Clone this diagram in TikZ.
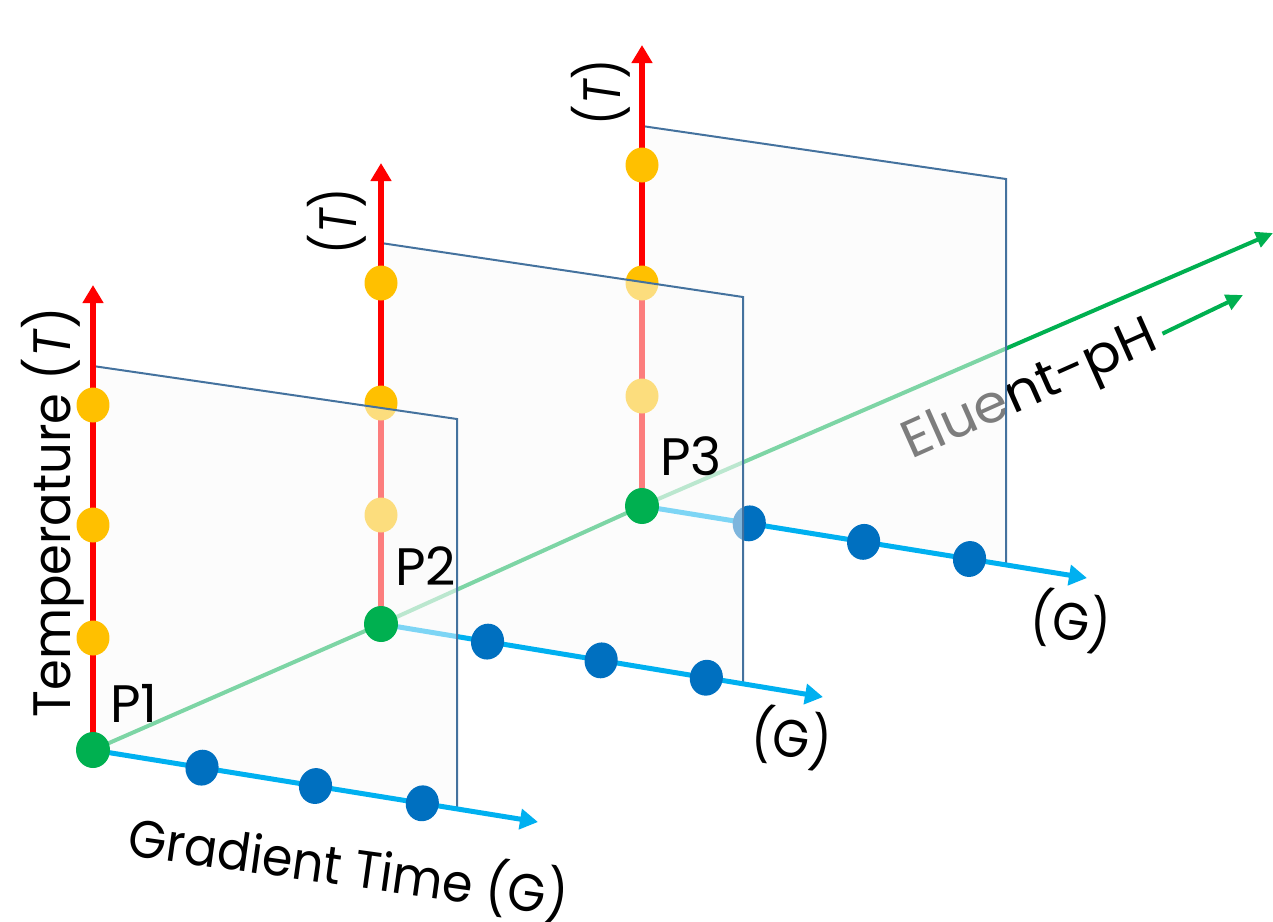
\documentclass[tikz,border=0pt]{standalone}
\usepackage{fontspec}
\setmainfont{Poppins}
\usetikzlibrary{arrows.meta,shapes.geometric,calc}
\definecolor{tred}{HTML}{FF0000}
\definecolor{tyel}{HTML}{FFC000}
\definecolor{pgreen}{HTML}{00B050}
\definecolor{gline}{HTML}{00B0F0}
\definecolor{gdot}{HTML}{0070C0}
\definecolor{frame}{HTML}{44729E}
\begin{document}
\begin{tikzpicture}[x=0.02cm, y=-0.02cm,
  taxis/.style={draw=tred, line width=0.12cm, -{Triangle[length=0.36cm,width=0.4cm]}},
  gaxis/.style={draw=gline, line width=0.1cm, -{Triangle[length=0.36cm,width=0.4cm]}},
  phaxis/.style={draw=pgreen, line width=0.08cm, -{Triangle[length=0.34cm,width=0.32cm]}},
  tdot/.style={ellipse, fill=tyel, minimum width=0.66cm, minimum height=0.7cm, inner sep=0},
  gdotst/.style={ellipse, fill=gdot, minimum width=0.66cm, minimum height=0.72cm, inner sep=0, rotate=-12},
  pdot/.style={ellipse, fill=pgreen, minimum width=0.68cm, minimum height=0.72cm, inner sep=0},
  plane/.style={fill=black!2, fill opacity=0.5, draw=none},
  planeedge/.style={draw=frame, line width=0.04cm},
  lbl/.style={font=\fontsize{30}{36}\selectfont, inner sep=0, text=black},
]
\useasboundingbox (0,0) rectangle (1273,921);

% origins of the three panels and axis end points
\coordinate (P1) at (93,750);
\coordinate (P2) at (381,624);
\coordinate (P3) at (642,506);
\coordinate (T1) at (93,285);
\coordinate (T2) at (381,163);
\coordinate (T3) at (642,45);
\coordinate (G1) at (538,822);
\coordinate (G2) at (823,697);
\coordinate (G3) at (1087,578);
\coordinate (pH) at (1273,233);
\coordinate (pHs) at (1243,295);

% eluent-pH axis with its label, lying behind all panels
\draw[phaxis] (P1) -- (P2) -- (P3) -- (pH);
\node[lbl, rotate=24, anchor=base] (phlbl) at (1036,404) {\scalebox{1.05}[1]{Eluent-pH}};
\draw[phaxis, shorten <=4pt] (phlbl.east) -- (pHs);

% panel 3
\fill[plane] (P3) -- (642,126) -- (1006,179) -- (1006,565) -- cycle;
\draw[planeedge] (642,126) -- (1006,179) -- (1006,565);
\draw[taxis] (P3) -- (T3);
\draw[gaxis] (P3) -- (G3);
\node[tdot] (t31) at ($(P3)+(0,-110)$) {};
\node[tdot] (t32) at ($(P3)+(0,-223)$) {};
\node[tdot] (t33) at ($(P3)+(0,-341)$) {};
\node[gdotst] (g31) at ($(P3)!0.241!(G3)$) {};
\node[gdotst] (g32) at ($(P3)!0.498!(G3)$) {};
\node[gdotst] (g33) at ($(P3)!0.736!(G3)$) {};

% panel 2
\fill[plane] (P2) -- (381,243) -- (743,297) -- (743,684) -- cycle;
\draw[planeedge] (381,243) -- (743,297) -- (743,684);
\draw[taxis] (P2) -- (T2);
\draw[gaxis] (P2) -- (G2);
\node[tdot] (t21) at ($(P2)+(0,-109)$) {};
\node[tdot] (t22) at ($(P2)+(0,-221)$) {};
\node[tdot] (t23) at ($(P2)+(0,-341)$) {};
\node[gdotst] (g21) at ($(P2)!0.241!(G2)$) {};
\node[gdotst] (g22) at ($(P2)!0.498!(G2)$) {};
\node[gdotst] (g23) at ($(P2)!0.736!(G2)$) {};

% panel 1
\fill[plane] (P1) -- (93,366) -- (457,419) -- (457,807) -- cycle;
\draw[planeedge] (93,366) -- (457,419) -- (457,807);
\draw[taxis] (P1) -- (T1);
\draw[gaxis] (P1) -- (G1);
\node[tdot] (t11) at ($(P1)+(0,-112)$) {};
\node[tdot] (t12) at ($(P1)+(0,-225)$) {};
\node[tdot] (t13) at ($(P1)+(0,-345)$) {};
\node[gdotst] (g11) at ($(P1)!0.245!(G1)$) {};
\node[gdotst] (g12) at ($(P1)!0.5!(G1)$) {};
\node[gdotst] (g13) at ($(P1)!0.74!(G1)$) {};

% starting points
\node[pdot] (d1) at (P1) {};
\node[pdot] (d2) at (P2) {};
\node[pdot] (d3) at (P3) {};

% labels
\node[lbl, anchor=base west] (l1) at (110,722) {P1};
\node[lbl, anchor=base west] (l2) at (395,585) {P2};
\node[lbl, anchor=base west] (l3) at (660,475) {P3};
\node[lbl, rotate=90, anchor=base] (tl1) at (70,512) {\scalebox{0.94}[1]{Temperature (\textit{T})}};
\node[lbl, rotate=90, anchor=base] (tl2) at (356,221) {\scalebox{0.85}[1]{(\textit{T})}};
\node[lbl, rotate=90, anchor=base] (tl3) at (620,92) {\scalebox{0.85}[1]{(\textit{T})}};
\node[lbl, rotate=-8, anchor=base] (gl1) at (346,886) {\scalebox{0.93}[1]{Gradient Time (G)}};
\node[lbl, rotate=-8] (gl2) at (792,738) {\scalebox{0.9}[1]{(G)}};
\node[lbl, rotate=-8] (gl3) at (1071,621) {\scalebox{0.9}[1]{(G)}};
\end{tikzpicture}
\end{document}
